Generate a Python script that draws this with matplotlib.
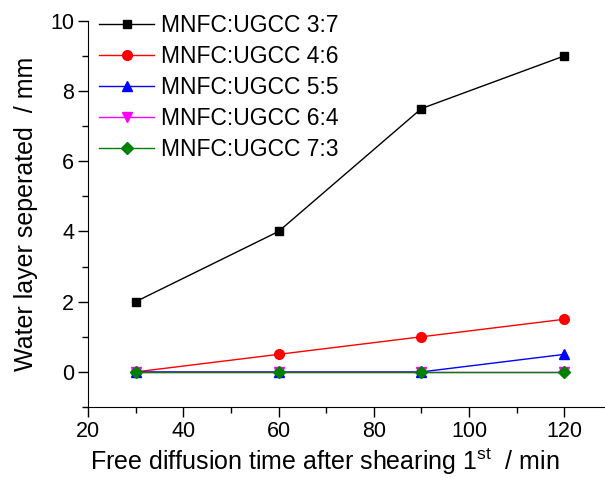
import numpy as np
import matplotlib.pyplot as plt
from matplotlib.ticker import MultipleLocator

plt.rcParams['font.family'] = ['Liberation Sans', 'DejaVu Sans']

# data
time = [30, 60, 90, 120]
r37 = [2, 4, 7.5, 9]
r46 = [0, 0.5, 1, 1.5]
r55 = [0, 0, 0, 0.5]
r64 = [0, 0, 0, 0]
r73 = [0, 0, 0, 0]
labels = ['MNFC:UGCC 3:7', 'MNFC:UGCC 4:6', 'MNFC:UGCC 5:5',
          'MNFC:UGCC 6:4', 'MNFC:UGCC 7:3']

fig = plt.figure(figsize=(6.05, 4.78), dpi=100)
ax = fig.add_axes([0.1455, 0.1485, 0.866, 0.808])

series = [r37, r46, r55, r64, r73]
colors = ['black', 'red', 'blue', 'magenta', '#008000']
markers = ['s', 'o', '^', 'v', 'D']
sizes = [6, 7, 7, 7, 6]
for ys, c, m, s, lab in zip(series, colors, markers, sizes, labels):
    ax.plot(time, ys, color=c, marker=m, markersize=s, linewidth=1, label=lab)

ax.set_xlim(20, 130)
ax.set_ylim(-1, 10)
ax.xaxis.set_minor_locator(MultipleLocator(10))
ax.yaxis.set_minor_locator(MultipleLocator(1))
ax.set_xticks([20, 40, 60, 80, 100, 120])
ax.set_yticks([0, 2, 4, 6, 8, 10])
ax.tick_params(which='major', direction='out', length=7, width=1, pad=3, labelsize=15.5)
ax.tick_params(which='minor', direction='out', length=4, width=1)
ax.spines['top'].set_visible(False)
ax.spines['right'].set_visible(False)

ax.set_xlabel('Free diffusion time after shearing 1$^{\\mathregular{st}}$  / min', fontsize=18)
ax.xaxis.label.set_ha('left')
ax.xaxis.label.set_va('baseline')
ax.xaxis.set_label_coords(0.004, -0.163)
ax.set_ylabel('Water layer seperated  / mm', fontsize=18, labelpad=9)

ax.legend(loc='upper left', bbox_to_anchor=(0.021, 1.018), frameon=False,
          fontsize=16.5, handlelength=2.4, handletextpad=0.3, labelspacing=0.35,
          borderpad=0, borderaxespad=0)

plt.savefig('out.png', dpi=100)
